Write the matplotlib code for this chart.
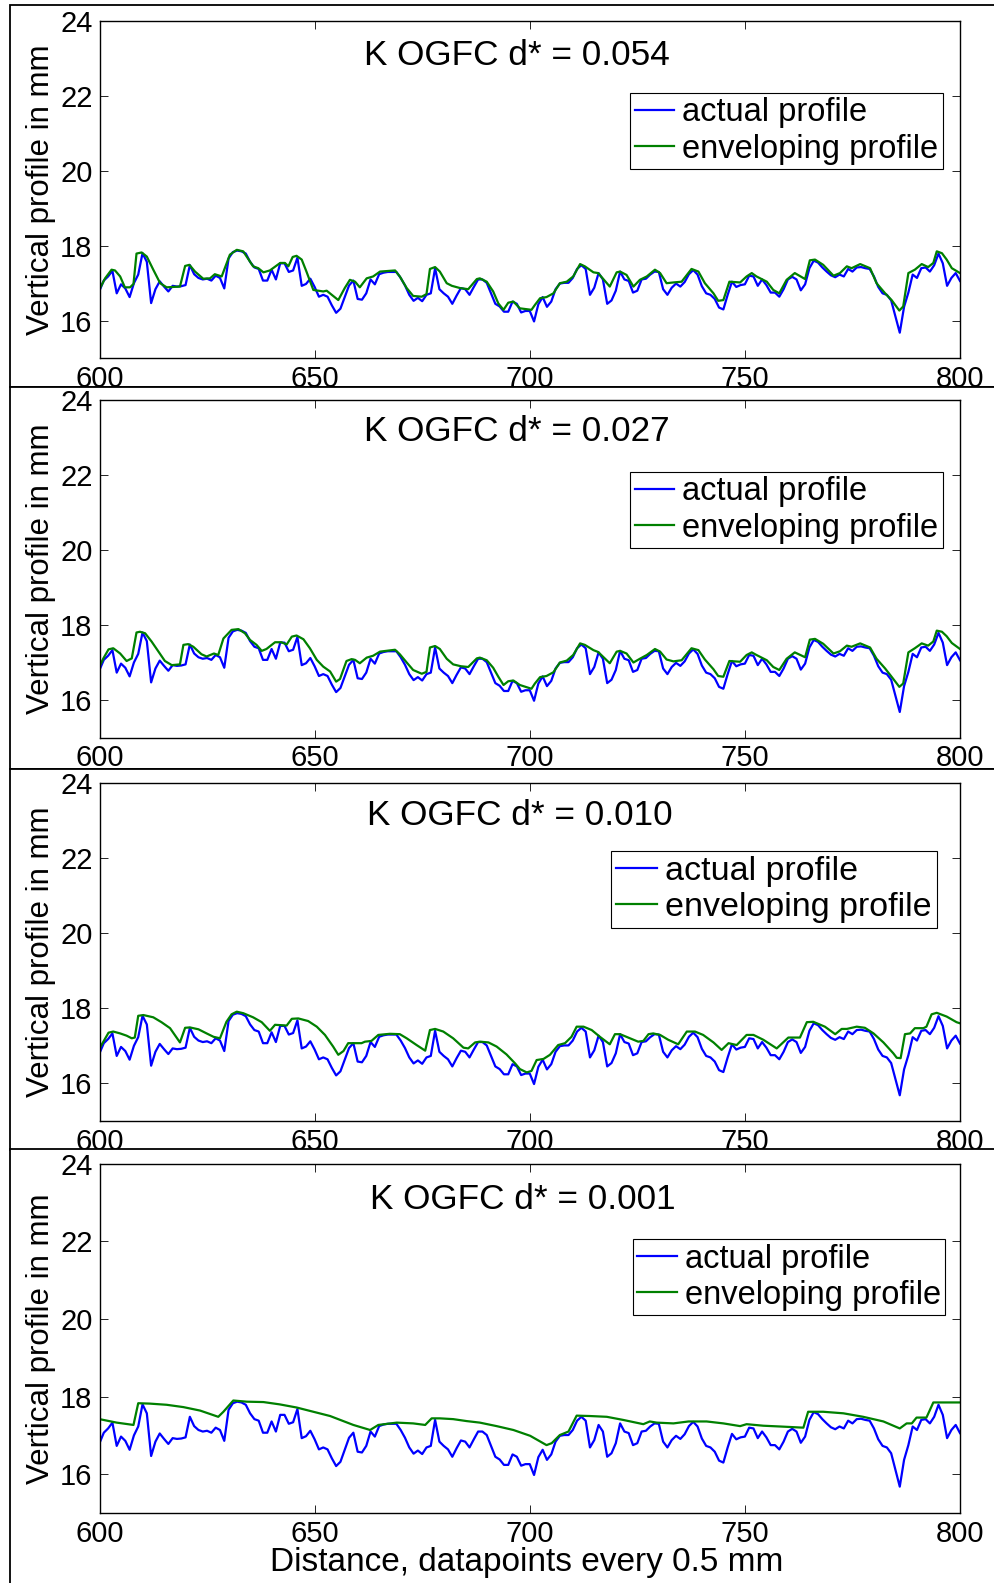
import numpy as np
import matplotlib.pyplot as plt
from matplotlib.patches import Rectangle

plt.rcParams['font.family'] = ['Liberation Sans', 'DejaVu Sans']

# surface profile, one point per datapoint index
distance = np.arange(600, 801)
actual_profile = [
    16.80, 17.07, 17.18, 17.33, 16.73, 16.97, 16.86, 16.63, 17.00, 17.23,
    17.80, 17.57, 16.47, 16.84, 17.05, 16.91, 16.78, 16.93, 16.91, 16.92,
    16.95, 17.48, 17.24, 17.14, 17.10, 17.12, 17.07, 17.20, 17.14, 16.86,
    17.66, 17.83, 17.87, 17.85, 17.79, 17.57, 17.42, 17.38, 17.07, 17.07,
    17.36, 17.10, 17.53, 17.53, 17.30, 17.34, 17.68, 16.93, 16.98, 17.12,
    16.90, 16.64, 16.69, 16.64, 16.41, 16.21, 16.32, 16.63, 16.94, 17.07,
    16.58, 16.56, 16.73, 17.10, 16.97, 17.24, 17.28, 17.30, 17.30, 17.30,
    17.14, 16.94, 16.69, 16.53, 16.61, 16.52, 16.69, 16.73, 17.40, 16.84,
    16.73, 16.64, 16.45, 16.67, 16.87, 16.84, 16.69, 16.90, 17.10, 17.10,
    17.01, 16.73, 16.45, 16.38, 16.24, 16.24, 16.51, 16.45, 16.22, 16.26,
    16.26, 15.98, 16.44, 16.63, 16.37, 16.51, 16.84, 16.99, 17.01, 17.01,
    17.14, 17.38, 17.48, 17.38, 16.69, 16.88, 17.27, 17.10, 16.45, 16.54,
    16.80, 17.31, 17.10, 17.06, 16.75, 16.80, 17.10, 17.12, 17.23, 17.31,
    17.30, 16.84, 16.69, 16.88, 16.99, 16.91, 17.03, 17.24, 17.35, 17.23,
    16.92, 16.73, 16.69, 16.58, 16.35, 16.30, 16.69, 17.04, 16.90, 16.95,
    16.97, 17.20, 17.18, 16.93, 17.10, 16.95, 16.75, 16.75, 16.64, 16.84,
    17.10, 17.17, 17.10, 16.81, 16.97, 17.40, 17.60, 17.55, 17.42, 17.31,
    17.21, 17.16, 17.23, 17.18, 17.38, 17.31, 17.42, 17.43, 17.40, 17.38,
    17.18, 16.90, 16.73, 16.69, 16.54, 16.11, 15.68, 16.37, 16.75, 17.23,
    17.14, 17.40, 17.42, 17.31, 17.48, 17.79, 17.53, 16.93, 17.14, 17.27,
    17.06,
]

# enveloping profiles as (distance, height) vertices
env_054 = [
    (600.0, 16.84), (601.3, 17.13), (602.8, 17.36), (603.6, 17.34), (604.8, 17.18),
    (605.9, 16.89), (607.1, 16.89), (607.9, 16.98), (608.6, 17.79), (609.8, 17.82),
    (611.0, 17.71), (612.5, 17.36), (614.1, 17.00), (615.6, 16.89), (618.7, 16.91),
    (619.9, 17.46), (620.9, 17.49), (622.2, 17.31), (624.1, 17.12), (625.7, 17.13),
    (626.8, 17.24), (628.4, 17.18), (630.3, 17.76), (631.9, 17.89), (633.4, 17.85),
    (634.6, 17.64), (635.7, 17.45), (636.9, 17.40), (638.1, 17.29), (639.6, 17.34),
    (642.0, 17.54), (643.1, 17.54), (643.9, 17.45), (644.9, 17.70), (645.8, 17.73),
    (647.0, 17.63), (648.1, 17.31), (649.7, 16.82), (652.0, 16.78), (652.8, 16.80),
    (655.5, 16.55), (657.0, 16.87), (658.2, 17.09), (659.4, 17.04), (660.5, 16.89),
    (662.1, 17.13), (663.6, 17.18), (665.2, 17.31), (668.7, 17.34), (669.8, 17.18),
    (671.4, 16.87), (672.9, 16.66), (674.9, 16.64), (676.0, 16.71), (676.8, 17.38),
    (678.0, 17.43), (679.1, 17.31), (680.7, 17.00), (681.9, 16.93), (683.8, 16.87),
    (685.7, 16.84), (687.7, 17.11), (688.4, 17.13), (690.0, 17.04), (691.5, 16.78),
    (692.7, 16.46), (693.9, 16.29), (695.0, 16.48), (696.2, 16.51), (697.7, 16.33),
    (700.4, 16.29), (701.2, 16.42), (702.4, 16.60), (703.9, 16.63), (705.5, 16.73),
    (707.0, 17.00), (708.6, 17.04), (710.1, 17.18), (711.7, 17.51), (712.8, 17.45),
    (714.8, 17.29), (715.9, 17.27), (718.6, 16.91), (720.2, 17.29), (721.0, 17.31),
    (722.5, 17.22), (724.1, 16.91), (725.6, 17.09), (727.2, 17.18), (729.1, 17.36),
    (730.3, 17.27), (731.8, 17.00), (733.4, 17.02), (735.3, 17.04), (737.6, 17.38),
    (739.2, 17.31), (740.7, 17.00), (742.7, 16.73), (743.8, 16.53), (745.0, 16.55),
    (746.4, 17.04), (748.9, 17.02), (750.4, 17.18), (751.6, 17.27), (752.7, 17.18),
    (755.1, 17.04), (756.6, 16.82), (758.0, 16.73), (759.7, 17.09), (761.6, 17.27),
    (764.0, 17.11), (765.1, 17.61), (766.3, 17.63), (768.2, 17.49), (770.6, 17.20),
    (772.1, 17.27), (773.7, 17.45), (774.8, 17.40), (776.8, 17.51), (779.1, 17.40),
    (780.6, 17.00), (782.6, 16.73), (784.1, 16.55), (785.9, 16.27), (786.8, 16.38),
    (788.0, 17.27), (789.5, 17.36), (791.1, 17.51), (792.6, 17.43), (793.8, 17.54),
    (794.6, 17.85), (795.8, 17.80), (796.9, 17.63), (798.1, 17.40), (800.0, 17.27),
]

env_027 = [
    (600.0, 16.89), (600.9, 17.11), (602.1, 17.35), (603.2, 17.38), (604.8, 17.24),
    (606.3, 17.04), (607.5, 17.11), (608.6, 17.80), (609.4, 17.82), (610.6, 17.78),
    (612.1, 17.56), (613.7, 17.29), (615.2, 17.04), (616.8, 16.93), (618.7, 16.95),
    (619.5, 17.47), (620.6, 17.49), (621.8, 17.42), (623.7, 17.22), (624.9, 17.16),
    (626.6, 17.24), (627.6, 17.20), (628.8, 17.64), (630.7, 17.87), (632.3, 17.89),
    (633.8, 17.78), (635.0, 17.60), (636.5, 17.47), (637.7, 17.31), (638.8, 17.36),
    (640.8, 17.54), (642.3, 17.54), (643.5, 17.48), (644.7, 17.69), (645.8, 17.72),
    (647.4, 17.62), (648.9, 17.38), (650.5, 17.07), (652.0, 16.89), (653.6, 16.76),
    (655.0, 16.49), (655.9, 16.56), (657.4, 17.04), (658.6, 17.09), (659.4, 17.07),
    (660.5, 16.98), (662.1, 17.13), (663.6, 17.18), (665.2, 17.29), (668.7, 17.34),
    (669.8, 17.22), (671.4, 17.00), (672.9, 16.80), (674.9, 16.70), (676.0, 16.75),
    (676.8, 17.40), (678.0, 17.44), (679.1, 17.36), (680.7, 17.10), (682.2, 16.95),
    (684.0, 16.90), (685.7, 16.88), (687.7, 17.11), (688.4, 17.13), (690.0, 17.06),
    (691.5, 16.86), (692.7, 16.62), (693.9, 16.40), (695.0, 16.50), (696.2, 16.52),
    (697.7, 16.40), (700.4, 16.30), (701.2, 16.44), (702.4, 16.61), (703.9, 16.64),
    (705.5, 16.74), (707.0, 17.00), (708.6, 17.05), (710.1, 17.20), (711.7, 17.51),
    (712.8, 17.47), (714.8, 17.33), (715.9, 17.28), (718.6, 16.98), (720.2, 17.29),
    (721.0, 17.31), (722.5, 17.24), (724.1, 17.00), (725.6, 17.10), (727.2, 17.20),
    (729.1, 17.36), (730.3, 17.29), (731.8, 17.08), (733.4, 17.03), (735.3, 17.06),
    (737.6, 17.38), (739.2, 17.33), (740.7, 17.08), (742.7, 16.82), (743.8, 16.64),
    (745.0, 16.62), (746.4, 17.04), (748.9, 17.02), (750.4, 17.20), (751.6, 17.27),
    (752.7, 17.20), (755.1, 17.06), (756.6, 16.88), (758.0, 16.80), (759.7, 17.10),
    (761.6, 17.27), (764.0, 17.14), (765.1, 17.61), (766.3, 17.63), (768.2, 17.50),
    (770.6, 17.24), (772.1, 17.30), (773.7, 17.45), (774.8, 17.42), (776.8, 17.51),
    (779.1, 17.40), (780.6, 17.10), (782.6, 16.84), (784.1, 16.62), (785.9, 16.35),
    (786.8, 16.44), (788.0, 17.27), (789.5, 17.38), (791.1, 17.51), (792.6, 17.45),
    (793.8, 17.56), (794.6, 17.85), (795.8, 17.82), (796.9, 17.70), (798.1, 17.52),
    (800.0, 17.36),
]

env_010 = [
    (600.0, 16.93), (602.1, 17.35), (603.2, 17.38), (604.8, 17.33), (606.3, 17.27),
    (607.5, 17.20), (608.2, 17.22), (609.0, 17.80), (610.2, 17.82), (612.5, 17.76),
    (614.4, 17.63), (616.4, 17.47), (618.7, 17.09), (619.9, 17.48), (621.0, 17.49),
    (623.0, 17.44), (624.9, 17.33), (626.5, 17.24), (628.0, 17.20), (629.5, 17.64),
    (630.7, 17.84), (631.9, 17.91), (633.4, 17.87), (635.7, 17.76), (637.7, 17.63),
    (639.6, 17.40), (640.8, 17.56), (643.5, 17.54), (644.7, 17.72), (646.2, 17.73),
    (648.5, 17.66), (650.5, 17.51), (652.4, 17.29), (654.3, 16.98), (655.5, 16.76),
    (656.7, 16.86), (657.8, 17.07), (659.4, 17.07), (660.9, 17.07), (661.7, 17.11),
    (663.2, 17.13), (664.8, 17.29), (667.5, 17.32), (669.8, 17.31), (671.4, 17.20),
    (673.7, 17.02), (675.7, 16.87), (676.8, 17.42), (678.0, 17.45), (679.9, 17.38),
    (682.2, 17.20), (684.6, 16.95), (685.7, 16.93), (687.3, 17.09), (688.4, 17.11),
    (690.4, 17.09), (692.3, 16.98), (694.6, 16.77), (696.6, 16.53), (697.7, 16.38),
    (699.3, 16.29), (700.4, 16.33), (701.6, 16.62), (703.2, 16.65), (704.7, 16.76),
    (706.6, 17.02), (708.2, 17.07), (709.7, 17.24), (710.9, 17.51), (712.5, 17.51),
    (714.4, 17.42), (716.3, 17.24), (718.6, 17.04), (719.8, 17.31), (721.0, 17.31),
    (723.3, 17.20), (725.2, 17.11), (726.4, 17.13), (727.6, 17.31), (728.7, 17.33),
    (730.3, 17.29), (732.2, 17.16), (734.5, 17.04), (736.5, 17.38), (738.4, 17.38),
    (740.3, 17.29), (742.7, 17.09), (744.6, 16.89), (746.2, 17.07), (748.1, 17.02),
    (750.4, 17.29), (752.0, 17.29), (754.3, 17.16), (757.4, 16.93), (760.1, 17.22),
    (762.8, 17.22), (764.4, 17.63), (765.9, 17.64), (768.6, 17.51), (771.0, 17.31),
    (772.5, 17.45), (773.7, 17.45), (776.0, 17.51), (777.9, 17.48), (779.9, 17.33),
    (782.2, 17.09), (784.5, 16.80), (785.3, 16.68), (786.2, 16.67), (787.2, 17.31),
    (788.4, 17.33), (789.5, 17.47), (791.5, 17.47), (792.2, 17.51), (793.4, 17.84),
    (794.6, 17.88), (796.9, 17.78), (799.2, 17.63), (800.0, 17.60),
]

env_001 = [
    (600.0, 17.42), (604.0, 17.33), (607.9, 17.27), (609.0, 17.83), (611.7, 17.82),
    (615.6, 17.79), (619.5, 17.73), (623.4, 17.64), (627.6, 17.48), (628.8, 17.61),
    (631.1, 17.90), (634.2, 17.87), (638.1, 17.86), (641.9, 17.80), (645.8, 17.72),
    (649.7, 17.61), (653.6, 17.50), (659.0, 17.27), (662.9, 17.14), (664.8, 17.27),
    (669.1, 17.33), (672.9, 17.31), (675.7, 17.27), (677.2, 17.44), (679.1, 17.44),
    (682.2, 17.42), (685.3, 17.37), (688.4, 17.33), (692.3, 17.24), (696.2, 17.14),
    (700.1, 16.99), (703.9, 16.75), (705.1, 16.80), (707.0, 17.01), (709.0, 17.10),
    (710.9, 17.51), (714.0, 17.50), (717.9, 17.48), (721.7, 17.40), (726.4, 17.29),
    (727.9, 17.36), (729.5, 17.33), (733.4, 17.31), (736.9, 17.36), (741.1, 17.36),
    (745.0, 17.31), (748.9, 17.24), (750.4, 17.29), (754.3, 17.25), (758.2, 17.23),
    (763.6, 17.20), (764.7, 17.61), (768.2, 17.61), (772.9, 17.57), (777.5, 17.48),
    (782.2, 17.36), (786.0, 17.18), (787.6, 17.31), (788.8, 17.31), (789.9, 17.46),
    (792.2, 17.46), (793.8, 17.85), (795.3, 17.85), (800.0, 17.85),
]

d_star = ['0.054', '0.027', '0.010', '0.001']
envelopes = [env_054, env_027, env_010, env_001]

W, H = 994, 1583
# pixel layout: panel frames (top, bottom) and axes (top, bottom)
frames = [(5, 386.5), (386.5, 769), (769, 1149.5), (1149.5, 1600)]
boxes = [(20.7, 358.2), (400, 737.5), (783.3, 1120.8), (1163.9, 1513)]
ax_left, ax_right = 99.5, 960
legend_at = [(0.980, 0.786), (0.980, 0.787), (0.973, 0.800), (0.983, 0.785)]
title_at = [(0.485, 0.898), (0.485, 0.908), (0.489, 0.906), (0.492, 0.899)]


def main():
    fig = plt.figure(figsize=(W / 100, H / 100), dpi=100)

    for i in range(4):
        top, bot = frames[i]
        frame = Rectangle((10 / W, 1 - bot / H), 1.2, (bot - top) / H,
                          transform=fig.transFigure, facecolor='white',
                          edgecolor='black', linewidth=1.3, zorder=2 * i)
        fig.add_artist(frame)

        t, b = boxes[i]
        ax = fig.add_axes([ax_left / W, 1 - b / H,
                           (ax_right - ax_left) / W, (b - t) / H])
        ax.set_zorder(2 * i + 1)

        ex, ey = zip(*envelopes[i])
        ax.plot(distance, actual_profile, color='#0000ff', lw=1.6,
                label='actual profile')
        ax.plot(ex, ey, color='#008000', lw=1.6, label='enveloping profile')

        ax.set_xlim(600, 800)
        ax.set_ylim(15, 24)
        ax.set_xticks([600, 650, 700, 750, 800])
        ax.set_yticks([16, 18, 20, 22, 24])
        ax.tick_params(direction='in', length=6, width=0.6, top=True,
                       right=True, labelsize=21, pad=5)
        for s in ax.spines.values():
            s.set_linewidth(1.0)

        ax.text(-0.068, 0.5, 'Vertical profile in mm', rotation=90,
                ha='center', va='center', fontsize=22.5, transform=ax.transAxes)
        tx, ty = title_at[i]
        ax.text(tx, ty, 'K OGFC d* = ' + d_star[i], ha='center', va='center',
                fontsize=25.3, transform=ax.transAxes)

        leg = ax.legend(loc='upper right', bbox_to_anchor=legend_at[i],
                        borderaxespad=0, fontsize=23.5 if i != 2 else 24.5,
                        fancybox=False, framealpha=1, edgecolor='black',
                        handlelength=1.2, handletextpad=0.25,
                        labelspacing=0.16, borderpad=0.14)
        leg.get_frame().set_linewidth(0.8)

    fig.text(527 / W, 1 - 1562 / H, 'Distance, datapoints every 0.5 mm',
             ha='center', va='center', fontsize=24, zorder=10)

    fig.savefig('out.png', dpi=100)


if __name__ == "__main__":
    main()
